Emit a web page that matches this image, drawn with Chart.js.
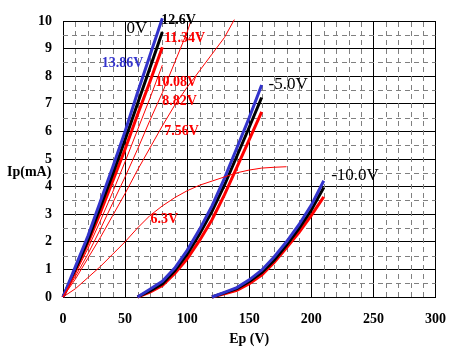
<!DOCTYPE html>
<html lang="en">
<head>
    <meta charset="UTF-8">
    <title>Plate characteristics</title>
    <script src="https://cdn.jsdelivr.net/npm/chart.js"></script>
    <style type="text/css">
        html, body {
            margin: 0;
            padding: 0;
            background: #fff;
        }

        #wrap {
            width: 460px;
            height: 360px;
        }
    </style>
</head>
<body>
<div id="wrap"><canvas id="myChart" width="460" height="360"></canvas></div>

<script>
  // plate voltage (V) and plate current (mA)
  var ep0 = [0, 10, 20, 30, 40, 50, 60, 70, 80];
  var ip0_1386 = [0, 1.1, 2.2, 3.45, 4.7, 6.0, 7.4, 8.75, 10.1];
  var ip0_126 = [0, 1.0, 2.05, 3.25, 4.45, 5.7, 7.0, 8.3, 9.6];
  var ip0_1134 = [0, 0.95, 1.95, 3.05, 4.2, 5.35, 6.6, 7.8, 9.05];
  var ip0_1008 = [0, 0.85, 1.75, 2.75, 3.8, 4.9, 6.05, 7.2, 8.4];

  var ep0_882 = [0, 10, 20, 30, 40, 50, 60, 70, 80, 90, 100, 103];
  var ip0_882 = [0, 0.75, 1.55, 2.45, 3.4, 4.35, 5.35, 6.4, 7.4, 8.5, 9.6, 10.0];

  var ep0_756 = [0, 10, 20, 30, 40, 50, 60, 70, 80, 90, 100, 110, 120, 130, 138];
  var ip0_756 = [0, 0.65, 1.4, 2.15, 2.95, 3.75, 4.6, 5.4, 6.2, 6.95, 7.6, 8.2, 8.8, 9.4, 10.05];

  var ep0_63 = [0, 10, 20, 30, 40, 50, 60, 70, 80, 90, 100, 110, 120, 130, 140, 150, 160, 170, 180];
  var ip0_63 = [0, 0.3, 0.7, 1.1, 1.55, 2.0, 2.5, 2.95, 3.3, 3.6, 3.85, 4.05, 4.2, 4.35, 4.5, 4.6, 4.67, 4.7, 4.72];

  var ep5 = [60, 70, 80, 90, 100, 110, 120, 130, 140, 150, 160];
  var ip5_1386 = [0, 0.28, 0.57, 1.05, 1.69, 2.45, 3.3, 4.3, 5.4, 6.5, 7.68];
  var ip5_126 = [0, 0.22, 0.48, 0.95, 1.55, 2.28, 3.1, 4.05, 5.1, 6.15, 7.23];
  var ip5_1134 = [0, 0.18, 0.42, 0.85, 1.38, 2.05, 2.8, 3.7, 4.7, 5.7, 6.71];

  var ep10 = [120, 130, 140, 150, 160, 170, 180, 190, 200, 210];
  var ip10_1386 = [0, 0.17, 0.34, 0.62, 0.97, 1.45, 2.0, 2.62, 3.33, 4.21];
  var ip10_126 = [0, 0.15, 0.3, 0.56, 0.88, 1.33, 1.88, 2.48, 3.15, 3.97];
  var ip10_1134 = [0, 0.12, 0.24, 0.48, 0.79, 1.25, 1.78, 2.33, 2.96, 3.63];

  var xTicks = [0, 50, 100, 150, 200, 250, 300];
  var yTicks = [0, 1, 2, 3, 4, 5, 6, 7, 8, 9, 10];

  // curve labels: text, Ep, Ip (left edge / middle of the text)
  var curveLabels = [
    ['0V', 51.2, 9.71, '#000', 'normal 17px'],
    ['12.6V', 79.2, 10.04, '#000', 'bold 14px'],
    ['11.34V', 81.6, 9.38, '#ff0000', 'bold 14px'],
    ['13.86V', 31.2, 8.48, '#3333cc', 'bold 14px'],
    ['10.08V', 74.4, 7.79, '#ff0000', 'bold 14px'],
    ['8.82V', 80, 7.07, '#ff0000', 'bold 14px'],
    ['7.56V', 81.6, 6.01, '#ff0000', 'bold 14px'],
    ['6.3V', 70.4, 2.81, '#ff0000', 'bold 14px'],
    ['-5.0V', 165.6, 7.7, '#000', 'normal 17px'],
    ['-10.0V', 216, 4.4, '#000', 'normal 17px']
  ];

  var BLUE = '#3333cc';
  var RED = '#ff0000';
  var SERIF = '"Liberation Serif", "Times New Roman", serif';

  function pts(xs, ys) {
    var out = [];
    for (var i = 0; i < xs.length; i++) {
      out.push({x: xs[i], y: ys[i]});
    }
    return out;
  }

  function line(xs, ys, color, width) {
    return {
      data: pts(xs, ys),
      borderColor: color,
      borderWidth: width,
      pointRadius: 0,
      tension: 0,
      fill: false,
      clip: false
    };
  }

  var datasets = [
    line(ep0_63, ip0_63, RED, 1),
    line(ep0_756, ip0_756, RED, 1),
    line(ep0_882, ip0_882, RED, 1),
    line(ep0, ip0_1008, RED, 1),
    line(ep0, ip0_1386, BLUE, 3),
    line(ep0, ip0_126, '#000', 3),
    line(ep0, ip0_1134, RED, 3),
    line(ep5, ip5_1386, BLUE, 3),
    line(ep5, ip5_126, '#000', 3),
    line(ep5, ip5_1134, RED, 3),
    line(ep10, ip10_1386, BLUE, 3),
    line(ep10, ip10_126, '#000', 3),
    line(ep10, ip10_1134, RED, 3)
  ];

  // dashed minor grid every 10 V and 0.5 mA, plus the text
  var minorGrid = {
    id: 'minorGrid',
    beforeDatasetsDraw: function (chart) {
      var ctx = chart.ctx;
      var xs = chart.scales.x, ys = chart.scales.y;
      var area = chart.chartArea;
      ctx.save();
      ctx.strokeStyle = '#808080';
      ctx.lineWidth = 1;
      ctx.setLineDash([5, 4]);
      for (var v = 10; v < 300; v += 10) {
        if (v % 50 === 0) continue;
        var px = Math.round(xs.getPixelForValue(v)) + 0.5;
        ctx.beginPath();
        ctx.moveTo(px, area.bottom);
        ctx.lineTo(px, area.top);
        ctx.stroke();
      }
      for (var w = 0.5; w < 10; w += 1) {
        var py = Math.round(ys.getPixelForValue(w)) + 0.5;
        ctx.beginPath();
        ctx.moveTo(area.left, py);
        ctx.lineTo(area.right, py);
        ctx.stroke();
      }
      ctx.restore();
    },
    afterDraw: function (chart) {
      var ctx = chart.ctx;
      var xs = chart.scales.x, ys = chart.scales.y;
      ctx.save();
      ctx.textBaseline = 'middle';
      for (var lab of curveLabels) {
        ctx.font = lab[4] + ' ' + SERIF;
        ctx.fillStyle = lab[3];
        ctx.textAlign = 'left';
        ctx.fillText(lab[0], xs.getPixelForValue(lab[1]), ys.getPixelForValue(lab[2]));
      }
      ctx.font = 'bold 14px ' + SERIF;
      ctx.fillStyle = '#000';
      ctx.textAlign = 'center';
      ctx.fillText('Ep (V)', (chart.chartArea.left + chart.chartArea.right) / 2, 339);
      ctx.textAlign = 'left';
      ctx.fillText('Ip(mA)', 7, 172.5);
      ctx.restore();
    }
  };

  var ctx = document.getElementById('myChart').getContext('2d');

  var myChart = new Chart(ctx, {
    type: 'line',
    data: {datasets: datasets},
    plugins: [minorGrid],
    options: {
      responsive: false,
      animation: false,
      layout: {
        padding: {left: 0, right: 22, top: 21, bottom: 0}
      },
      plugins: {
        legend: {display: false},
        tooltip: {enabled: false}
      },
      scales: {
        x: {
          type: 'linear',
          min: 0,
          max: 300,
          afterFit: function (scale) {
            scale.height = 63;
          },
          afterBuildTicks: function (scale) {
            scale.ticks = xTicks.map(function (v) { return {value: v}; });
          },
          grid: {color: '#000', lineWidth: 1, drawTicks: false},
          border: {color: '#000', width: 1},
          ticks: {
            padding: 14,
            color: '#000',
            maxRotation: 0,
            font: {family: SERIF, size: 14, weight: 'bold'}
          }
        },
        y: {
          type: 'linear',
          min: 0,
          max: 10,
          afterFit: function (scale) {
            scale.width = 63;
          },
          afterBuildTicks: function (scale) {
            scale.ticks = yTicks.map(function (v) { return {value: v}; });
          },
          grid: {color: '#000', lineWidth: 1, drawTicks: false},
          border: {color: '#000', width: 1},
          ticks: {
            padding: 11,
            color: '#000',
            font: {family: SERIF, size: 14, weight: 'bold'}
          }
        }
      }
    }
  });
</script>
</body>
</html>
